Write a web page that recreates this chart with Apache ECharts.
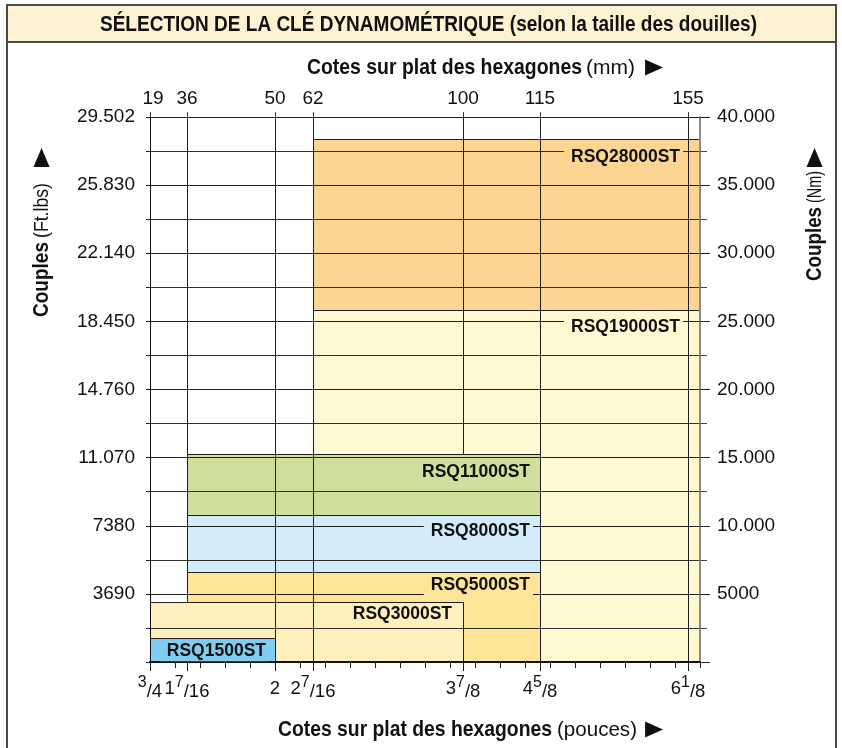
<!DOCTYPE html>
<html><head><meta charset="utf-8">
<script src="https://cdn.jsdelivr.net/npm/echarts@6/dist/echarts.min.js"></script>
<style>html,body{margin:0;padding:0;background:#fff}#c{width:842px;height:748px}</style>
</head><body><div id="c"></div>
<script>
// ---------- data ----------
const chartTitle = 'SÉLECTION DE LA CLÉ DYNAMOMÉTRIQUE (selon la taille des douilles)';
// hexagon sizes: position on the (inch-based) horizontal scale, mm label, inch label
const hexPos = [0.75, 1.12, 2.0, 2.38, 3.88, 4.65, 6.13];
const hexMm = ['19', '36', '50', '62', '100', '115', '155'];
const hexInch = ['{s|3}{d|/4}', '{n|1}{s|7}{d|/16}', '{n|2}', '{n|2}{s|7}{d|/16}', '{n|3}{s|7}{d|/8}', '{n|4}{s|5}{d|/8}', '{n|6}{s|1}{d|/8}'];
// torque tick labels (every 5000 Nm)
const torqueNmLabels = ['', '5000', '10.000', '15.000', '20.000', '25.000', '30.000', '35.000', '40.000'];
const torqueFtLbsLabels = ['', '3690', '7380', '11.070', '14.760', '18.450', '22.140', '25.830', '29.502'];
// wrench models (drawing order) with their ranges: hexagon size from/to, torque (Nm) from/to
const models = ['RSQ19000ST', 'RSQ28000ST', 'RSQ11000ST', 'RSQ8000ST', 'RSQ5000ST', 'RSQ3000ST', 'RSQ1500ST'];
const sizeFrom = [2.38, 2.38, 1.12, 1.12, 1.12, 0.75, 0.75];
const sizeTo = [6.25, 6.25, 4.65, 4.65, 4.65, 3.88, 2.0];
const torqueFrom = [0, 25800, 10770, 6580, 0, 0, 0];
const torqueTo = [25800, 38400, 15250, 10770, 6580, 4430, 1740];
// axis titles
const titleTop = ['Cotes sur plat des hexagones', '(mm)', '▶'];
const titleBottom = ['Cotes sur plat des hexagones', '(pouces)', '▶'];
const titleLeft = ['Couples', '(Ft.lbs)', '▶'];
const titleRight = ['Couples', '(Nm)', '▶'];

// ---------- styles ----------
const boxStyle = {
  RSQ19000ST: { fill: '#fef8d3', inset: 17, drop: 17, layer: 'upper' },
  RSQ28000ST: { fill: '#fdd592', inset: 17, drop: 18, layer: 'upper' },
  RSQ11000ST: { fill: '#d1df9d', inset: 7, drop: 18, layer: 'lower' },
  RSQ8000ST:  { fill: '#d4ebfa', inset: 7, drop: 16, layer: 'lower' },
  RSQ5000ST:  { fill: '#fee496', inset: 7, drop: 13, layer: 'lower' },
  RSQ3000ST:  { fill: '#feefbc', inset: 8, drop: 13, layer: 'lower' },
  RSQ1500ST:  { fill: '#7fcdf1', inset: 6, drop: 13, layer: 'lower' }
};
const linesOnTop = ['50', '62']; // size lines that stay visible across the lower boxes
const SANS = "'Liberation Sans',Arial,Helvetica,sans-serif";
const TRI = "'DejaVu Sans',sans-serif";
const X_MIN = 0.75, X_MAX = 6.25, Y_MAX = 40000;
const INK = '#111', LINE = '#1e1e1e';

const boxData = models.map((m, i) => [sizeFrom[i], sizeTo[i], torqueFrom[i], torqueTo[i], i]);
const upperBoxes = boxData.filter(r => boxStyle[models[r[4]]].layer === 'upper');
const lowerBoxes = boxData.filter(r => boxStyle[models[r[4]]].layer === 'lower');
const linesUnder = hexPos.filter((v, i) => i > 0 && !linesOnTop.includes(hexMm[i])).map(v => [v]);
const linesOver = hexPos.filter((v, i) => i > 0 && linesOnTop.includes(hexMm[i])).map(v => [v]);
const snap = v => Math.round(v) + 0.5;

const mctx = document.createElement('canvas').getContext('2d');
function textW(font, s) { mctx.font = font; return mctx.measureText(s).width; }

// lay out a title made of parts, each squeezed to the width it has in the reference
function titleParts(texts, fonts, starts, widths, x, y, vertical) {
  return texts.map((t, i) => {
    const sx = widths[i] / textW(fonts[i], t);
    return {
      type: 'text', z: 11,
      x: vertical ? x : starts[i], y: vertical ? starts[i] : y,
      rotation: vertical ? Math.PI / 2 : 0, scaleX: sx, scaleY: 1,
      style: { text: t, font: fonts[i], fill: INK, align: 'left', verticalAlign: 'middle' }
    };
  });
}
const fB = 'bold 22px ' + SANS, fR = '21px ' + SANS, fT = '21px ' + TRI;

function boxRender(params, api) {
  const st = boxStyle[models[api.value(4)]];
  const p0 = api.coord([api.value(0), api.value(3)]);
  const p1 = api.coord([api.value(1), api.value(2)]);
  const x0 = snap(p0[0]), y0 = snap(p0[1]), x1 = snap(p1[0]), y1 = snap(p1[1]);
  return { type: 'rect', shape: { x: x0, y: y0, width: x1 - x0, height: y1 - y0 },
    style: { fill: st.fill, stroke: LINE, lineWidth: 1 } };
}
function lineRender(params, api) {
  const a = api.coord([api.value(0), 0]);
  const b = api.coord([api.value(0), Y_MAX]);
  const x = snap(a[0]);
  return { type: 'line', shape: { x1: x, y1: a[1], x2: x, y2: b[1] }, style: { stroke: LINE, lineWidth: 1 } };
}
const fracTok = (size, padTop) => ({ fontSize: size, fontFamily: SANS, color: INK, height: size, lineHeight: 26, padding: [padTop, 0, 0, 0], verticalAlign: 'top' });

const chart = echarts.init(document.getElementById('c'), null, { renderer: 'canvas' });
chart.setOption({
  animation: false,
  backgroundColor: '#fff',
  grid: { left: 150, right: 142, top: 117, bottom: 86, containLabel: false },
  xAxis: [
    { // bottom axis (inches), quarter-inch ticks
      type: 'value', position: 'bottom', min: X_MIN, max: X_MAX, interval: 0.25, z: 5,
      axisLine: { show: true, lineStyle: { color: INK, width: 2 } },
      axisTick: { show: true, length: 6, lineStyle: { color: LINE, width: 1 } },
      splitLine: { show: false },
      axisLabel: {
        customValues: hexPos, margin: 13, color: INK,
        formatter: v => hexInch[hexPos.indexOf(v)] || '',
        rich: { n: fracTok(18.5, 5), d: fracTok(18.5, 8), s: fracTok(16, 0) }
      }
    },
    { // bottom axis: longer ticks at the size marks
      type: 'value', position: 'bottom', min: X_MIN, max: X_MAX, z: 5,
      axisLine: { show: false },
      axisTick: { show: true, customValues: hexPos, length: 9, lineStyle: { color: LINE, width: 1 } },
      axisLabel: { show: false }, splitLine: { show: false }
    },
    { // top axis (mm)
      type: 'value', position: 'top', min: X_MIN, max: X_MAX, z: 5,
      axisLine: { show: false },
      axisTick: { show: true, customValues: hexPos, length: 5, lineStyle: { color: '#333', width: 1 } },
      splitLine: { show: false },
      axisLabel: {
        customValues: hexPos, margin: 9, fontSize: 19, fontFamily: SANS, color: INK,
        formatter: v => { const i = hexPos.indexOf(v); return i === 0 ? '{o|' + hexMm[i] + '}' : (hexMm[i] || ''); },
        rich: { o: { fontSize: 19, fontFamily: SANS, color: INK, padding: [0, 0, 0, 6] } }
      }
    }
  ],
  yAxis: [
    { // left, ft.lbs labels
      type: 'value', position: 'left', min: 0, max: Y_MAX, interval: 5000, z: 5,
      axisLine: { show: true, lineStyle: { color: INK, width: 1 } },
      axisTick: { show: true, length: 4, lineStyle: { color: LINE } },
      minorTick: { show: true, splitNumber: 2, length: 4, lineStyle: { color: LINE } },
      splitLine: { show: true, lineStyle: { color: LINE, width: 1 } },
      minorSplitLine: { show: true, lineStyle: { color: '#2e2e2e', width: 1 } },
      axisLabel: { formatter: v => torqueFtLbsLabels[Math.round(v / 5000)], margin: 15, fontSize: 19, fontFamily: SANS, color: INK }
    },
    { // right, Nm labels
      type: 'value', position: 'right', min: 0, max: Y_MAX, interval: 5000, z: 5,
      axisLine: { show: true, lineStyle: { color: '#8a8a8a', width: 2 } },
      axisTick: { show: true, length: 10, lineStyle: { color: LINE } },
      minorTick: { show: true, splitNumber: 2, length: 7, lineStyle: { color: '#444' } },
      splitLine: { show: false },
      axisLabel: { formatter: v => torqueNmLabels[Math.round(v / 5000)], margin: 17, fontSize: 19, fontFamily: SANS, color: INK }
    }
  ],
  series: [
    { type: 'custom', name: 'upperBoxes', z: 1, silent: true, data: upperBoxes, renderItem: boxRender },
    { type: 'custom', name: 'sizeLinesUnder', z: 2, silent: true, data: linesUnder, renderItem: lineRender },
    { type: 'custom', name: 'lowerBoxes', z: 3, silent: true, data: lowerBoxes, renderItem: boxRender },
    { type: 'custom', name: 'sizeLinesOver', z: 4, silent: true, data: linesOver, renderItem: lineRender },
    { // model labels
      type: 'custom', name: 'labels', z: 7, silent: true,
      data: boxData,
      renderItem: (params, api) => {
        const m = models[api.value(4)];
        const st = boxStyle[m];
        const p = api.coord([api.value(1), api.value(3)]);
        return { type: 'text', x: p[0] - st.inset, y: p[1] + st.drop,
          style: { text: m, align: 'right', verticalAlign: 'middle', fill: INK,
            font: 'bold 17.5px ' + SANS, backgroundColor: st.fill, padding: [1, 3, 1, 7] } };
      }
    }
  ],
  graphic: [
    { type: 'rect', z: 10, shape: { x: 7, y: 5, width: 829, height: 37 }, style: { fill: '#fdf2d2', stroke: '#4a4a4a', lineWidth: 2 } },
    { type: 'rect', z: 10, shape: { x: 7, y: 5, width: 829, height: 760 }, style: { fill: 'none', stroke: '#4a4a4a', lineWidth: 2 } },
    ...titleParts([chartTitle], [fB], [100], [657], 0, 25, false),
    ...titleParts(titleTop, [fB, fR, fT], [307, 586, 645], [275, 49, 18], 0, 68, false),
    ...titleParts(titleBottom, [fB, fR, fT], [278, 557, 645], [274, 80, 18], 0, 730, false),
    ...titleParts(titleLeft, [fB, fR, fT], [317, 238, 167], [75, 55, 19], 42, 0, true),
    ...titleParts(titleRight, [fB, fR, fT], [281, 203, 167], [74, 32, 19], 815, 0, true)
  ]
});
</script>
</body></html>
